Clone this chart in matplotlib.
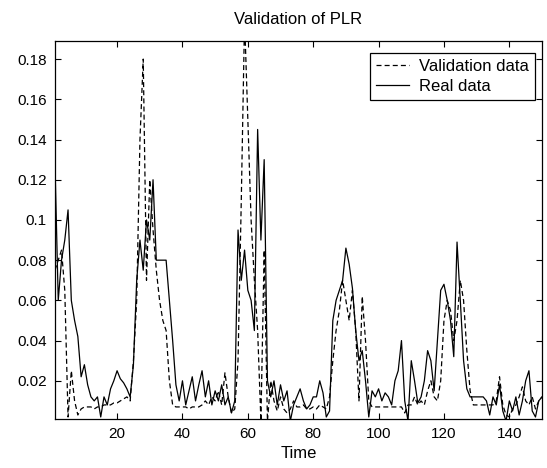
import numpy as np
import matplotlib
matplotlib.use('Agg')
import matplotlib.pyplot as plt

plt.rcParams['font.family'] = ['Liberation Sans', 'DejaVu Sans']

# sample index 1..150
time = np.arange(1, 151)

# real PLR values
real_plr = [
    0.128, 0.060, 0.080, 0.090, 0.105, 0.060, 0.050, 0.042, 0.022, 0.028,
    0.018, 0.012, 0.010, 0.012, 0.002, 0.012, 0.008, 0.016, 0.020, 0.025,
    0.021, 0.019, 0.016, 0.012, 0.028, 0.070, 0.090, 0.075, 0.100, 0.090,
    0.120, 0.080, 0.080, 0.080, 0.080, 0.060, 0.040, 0.018, 0.010, 0.020,
    0.008, 0.015, 0.022, 0.010, 0.018, 0.025, 0.012, 0.020, 0.008, 0.015,
    0.010, 0.018, 0.008, 0.012, 0.004, 0.010, 0.095, 0.070, 0.085, 0.065,
    0.060, 0.045, 0.145, 0.090, 0.130, 0.020, 0.012, 0.020, 0.008, 0.018,
    0.010, 0.015, 0.000, 0.008, 0.012, 0.016, 0.010, 0.006, 0.008, 0.012,
    0.012, 0.020, 0.014, 0.002, 0.005, 0.050, 0.060, 0.065, 0.070, 0.086,
    0.078, 0.066, 0.045, 0.030, 0.035, 0.020, 0.002, 0.015, 0.012, 0.016,
    0.010, 0.014, 0.012, 0.008, 0.020, 0.025, 0.040, 0.010, 0.000, 0.030,
    0.020, 0.009, 0.012, 0.020, 0.035, 0.030, 0.015, 0.040, 0.065, 0.068,
    0.060, 0.050, 0.032, 0.089, 0.060, 0.030, 0.016, 0.012, 0.012, 0.012,
    0.012, 0.012, 0.010, 0.003, 0.012, 0.008, 0.018, 0.005, 0.000, 0.010,
    0.005, 0.012, 0.003, 0.010, 0.020, 0.025, 0.005, 0.002, 0.010, 0.012,
]

# model validation output
validation_plr = [
    0.075, 0.080, 0.085, 0.065, 0.002, 0.025, 0.010, 0.003, 0.006, 0.007,
    0.007, 0.007, 0.006, 0.007, 0.007, 0.008, 0.008, 0.008, 0.009, 0.009,
    0.010, 0.011, 0.012, 0.010, 0.030, 0.060, 0.140, 0.180, 0.070, 0.120,
    0.095, 0.075, 0.060, 0.050, 0.045, 0.020, 0.008, 0.007, 0.007, 0.007,
    0.007, 0.006, 0.007, 0.007, 0.007, 0.008, 0.010, 0.008, 0.012, 0.010,
    0.015, 0.008, 0.024, 0.012, 0.004, 0.006, 0.030, 0.110, 0.200, 0.150,
    0.100, 0.070, 0.045, 0.000, 0.085, 0.000, 0.020, 0.010, 0.005, 0.012,
    0.006, 0.004, 0.006, 0.010, 0.007, 0.007, 0.008, 0.006, 0.006, 0.007,
    0.006, 0.008, 0.007, 0.006, 0.012, 0.030, 0.045, 0.055, 0.070, 0.060,
    0.050, 0.065, 0.045, 0.010, 0.062, 0.040, 0.010, 0.007, 0.007, 0.007,
    0.007, 0.007, 0.007, 0.007, 0.007, 0.007, 0.007, 0.004, 0.008, 0.008,
    0.012, 0.008, 0.010, 0.008, 0.015, 0.020, 0.012, 0.010, 0.020, 0.050,
    0.060, 0.055, 0.040, 0.050, 0.070, 0.060, 0.035, 0.015, 0.008, 0.008,
    0.008, 0.008, 0.008, 0.008, 0.008, 0.010, 0.022, 0.008, 0.003, 0.002,
    0.006, 0.008, 0.012, 0.017, 0.010, 0.008, 0.012, 0.006, 0.010, 0.012,
]

x_ticks = [20, 40, 60, 80, 100, 120, 140]
y_ticks = [0.02, 0.04, 0.06, 0.08, 0.1, 0.12, 0.14, 0.16, 0.18]
y_tick_labels = ['0.02', '0.04', '0.06', '0.08', '0.1', '0.12', '0.14', '0.16', '0.18']

fig = plt.figure(figsize=(5.47, 4.68), dpi=100)
ax = fig.add_axes([0.1005, 0.1047, 0.8904, 0.8077])

ax.plot(time, validation_plr, color='black', linewidth=0.9,
        linestyle=(0, (4, 2.5)), label='Validation data')
ax.plot(time, real_plr, color='black', linewidth=0.9, label='Real data')

ax.set_xlim(1, 150)
ax.set_ylim(0.001, 0.189)
ax.set_xticks(x_ticks)
ax.set_yticks(y_ticks)
ax.set_yticklabels(y_tick_labels)
ax.tick_params(direction='in', length=4, width=0.8, top=True, right=True,
               labelsize=11, pad=6)
for sp in ax.spines.values():
    sp.set_linewidth(0.9)

ax.set_title('Validation of PLR', fontsize=12, pad=12)
ax.set_xlabel('Time', fontsize=12, labelpad=3)

leg = ax.legend(loc='upper right', bbox_to_anchor=(0.986, 0.968),
                borderaxespad=0, fontsize=12, handlelength=2.0,
                handletextpad=0.6, fancybox=False, framealpha=1,
                edgecolor='black', borderpad=0.35, labelspacing=0.3)
leg.get_frame().set_linewidth(0.9)

fig.savefig('out.png', dpi=100)
